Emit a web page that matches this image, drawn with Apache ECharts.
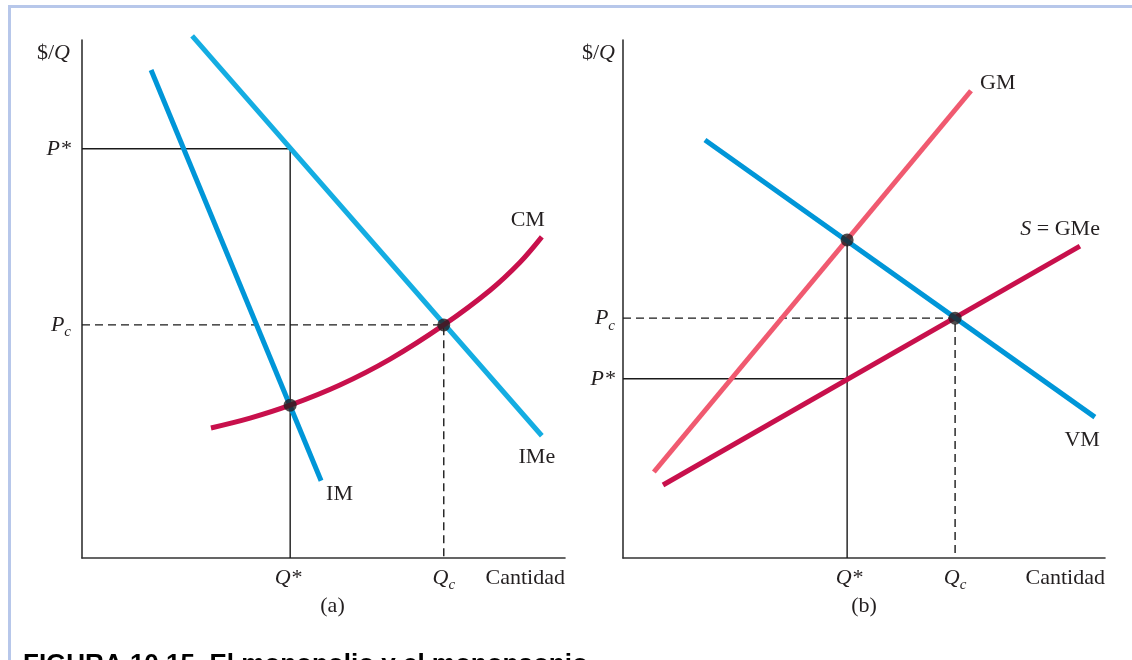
<!DOCTYPE html>
<html><head><meta charset="utf-8">
<script src="https://cdn.jsdelivr.net/npm/echarts@6/dist/echarts.min.js"></script>
<style>html,body{margin:0;padding:0;background:#fff}#c{width:1132px;height:660px}</style>
</head><body><div id="c"></div>
<script>
// ---------- Panel (a): monopoly (values in chart units, axes 0..10) ----------
const aIM  = [[1.43, 9.42], [4.95, 1.49]];
const aIMe = [[2.28, 10.08], [9.52, 2.36]];
const aCM  = [[2.67,2.51],[3.48,2.70],[4.31,2.95],[5.34,3.34],[6.38,3.84],[7.49,4.50],[8.45,5.17],[9.07,5.71],[9.52,6.20]];
const aQstar = 4.31, aQc = 7.49, aPstar = 7.90, aPc = 4.50, aCMatQstar = 2.95;
// ---------- Panel (b): monopsony ----------
const bVM = [[1.70,8.07],[9.79,2.72]];
const bGM = [[0.64,1.66],[7.22,9.02]];
const bS  = [[0.83,1.41],[9.48,6.02]];
const bQstar = 4.65, bQc = 6.89, bPstar = 3.46, bPc = 4.63, bVMatQstar = 6.14;
const axisMax = 10;

const SERIF = '"Liberation Serif", "DejaVu Serif", serif';
const INK = '#231f20';
const C_IM = '#0096d8', C_IMe = '#14ade2', C_CM = '#c8104c', C_GM = '#f05a70', C_VM = '#0096d8';

const chart = echarts.init(document.getElementById('c'), null, {renderer: 'canvas'});

function axes(g) {
  return {type: 'value', min: 0, max: axisMax, gridIndex: g,
    axisLine: {show: true, onZero: false, lineStyle: {color: '#333', width: 1.6}},
    axisTick: {show: false}, axisLabel: {show: false}, splitLine: {show: false}};
}
function line(g, data, color, extra) {
  return Object.assign({type: 'line', xAxisIndex: g, yAxisIndex: g, data: data, showSymbol: false,
    symbol: 'none', clip: false, silent: true, animation: false,
    lineStyle: {color: color, width: 5, cap: 'butt'}, z: 3}, extra || {});
}
function guide(g, data, dashed) {
  return {type: 'line', xAxisIndex: g, yAxisIndex: g, data: data, symbol: 'none', silent: true,
    animation: false, z: 2,
    lineStyle: {color: '#1a1a1a', width: 1.4, type: dashed ? [8, 5] : 'solid'}};
}

chart.setOption({
  animation: false,
  grid: [
    {left: 82, top: 40, width: 483, height: 518},
    {left: 623, top: 40, width: 482, height: 518}
  ],
  xAxis: [axes(0), axes(1)],
  yAxis: [axes(0), axes(1)],
  series: [
    guide(0, [[0, aPstar], [aQstar, aPstar], [aQstar, 0]], false),
    guide(0, [[0, aPc], [aQc, aPc], [aQc, 0]], true),
    line(0, aIM, C_IM),
    line(0, aIMe, C_IMe),
    line(0, aCM, C_CM, {smooth: 0.35}),
    {type: 'scatter', xAxisIndex: 0, yAxisIndex: 0, data: [[aQstar, aCMatQstar], [aQc, aPc]],
      symbolSize: 13, itemStyle: {color: INK}, z: 5, silent: true},
    guide(1, [[0, bPstar], [bQstar, bPstar]], false),
    guide(1, [[bQstar, bVMatQstar], [bQstar, 0]], false),
    guide(1, [[0, bPc], [bQc, bPc], [bQc, 0]], true),
    line(1, bGM, C_GM),
    line(1, bS, C_CM),
    line(1, bVM, C_VM),
    {type: 'scatter', xAxisIndex: 1, yAxisIndex: 1, data: [[bQstar, bVMatQstar], [bQc, bPc]],
      symbolSize: 13, itemStyle: {color: INK}, z: 5, silent: true}
  ]
});

function px(g, x, y) { return chart.convertToPixel({gridIndex: g}, [x, y]); }
const rich = {
  r: {fontFamily: SERIF, fontSize: 22, color: INK, lineHeight: 24},
  i: {fontFamily: SERIF, fontSize: 22, fontStyle: 'italic', color: INK, lineHeight: 24},
  s: {fontFamily: SERIF, fontSize: 15, fontStyle: 'italic', color: INK, padding: [15, 0, 0, 0]}
};
function txt(anchor, dx, dy, text, align, vAlign) {
  return {type: 'text', x: anchor[0] + dx, y: anchor[1] + dy, z: 10, silent: true,
    style: {text: text, rich: rich, align: align || 'center', verticalAlign: vAlign || 'middle',
      fontFamily: SERIF, fontSize: 22, fill: INK}};
}

const g = [];
g.push({type: 'line', shape: {x1: 8, y1: 6.5, x2: 1132, y2: 6.5}, style: {stroke: '#b7c7ea', lineWidth: 3}, silent: true});
g.push({type: 'line', shape: {x1: 9.5, y1: 5, x2: 9.5, y2: 660}, style: {stroke: '#b7c7ea', lineWidth: 3}, silent: true});

g.push(txt(px(0, 0, axisMax), -12, 13, '{r|$/}{i|Q}', 'right'));
g.push(txt(px(0, 0, aPstar), -11, 0, '{i|P*}', 'right'));
g.push(txt(px(0, 0, aPc), -11, 0, '{i|P}{s|c}', 'right'));
g.push(txt(px(0, aQstar, 0), -2, 20, '{i|Q*}', 'center'));
g.push(txt(px(0, aQc, 0), 0, 20, '{i|Q}{s|c}', 'center'));
g.push(txt(px(0, axisMax, 0), 0, 20, '{r|Cantidad}', 'right'));
g.push(txt(px(0, axisMax / 2, 0), 9, 48, '{r|(a)}', 'center'));
g.push(txt(px(0, aIM[1][0], aIM[1][1]), 5, 13, '{r|IM}', 'left'));
g.push(txt(px(0, aIMe[1][0], aIMe[1][1]), -5, 21, '{r|IMe}', 'center'));
g.push(txt(px(0, aCM[aCM.length - 1][0], aCM[aCM.length - 1][1]), -14, -17, '{r|CM}', 'center'));

g.push(txt(px(1, 0, axisMax), -8, 13, '{r|$/}{i|Q}', 'right'));
g.push(txt(px(1, 0, bPc), -8, 0, '{i|P}{s|c}', 'right'));
g.push(txt(px(1, 0, bPstar), -8, 0, '{i|P*}', 'right'));
g.push(txt(px(1, bQstar, 0), 2, 20, '{i|Q*}', 'center'));
g.push(txt(px(1, bQc, 0), 0, 20, '{i|Q}{s|c}', 'center'));
g.push(txt(px(1, axisMax, 0), 0, 20, '{r|Cantidad}', 'right'));
g.push(txt(px(1, axisMax / 2, 0), 0, 48, '{r|(b)}', 'center'));
g.push(txt(px(1, bGM[1][0], bGM[1][1]), 9, -8, '{r|GM}', 'left'));
g.push(txt(px(1, bS[1][0], bS[1][1]), 20, -17, '{i|S}{r| = GMe}', 'right'));
g.push(txt(px(1, bVM[1][0], bVM[1][1]), 5, 23, '{r|VM}', 'right'));

g.push({type: 'text', x: 23, y: 652, silent: true,
  style: {text: '{p|FIGURA 10.15}{b|  El monopolio y el monopsonio}', verticalAlign: 'top', align: 'left',
    rich: {
      p: {fontFamily: '"Liberation Sans", Arial, sans-serif', fontWeight: 'bold', fontSize: 26, color: '#a363a9'},
      b: {fontFamily: '"Liberation Sans", Arial, sans-serif', fontWeight: 'bold', fontSize: 26, color: '#1a1a1a'}
    }}});

chart.setOption({graphic: g});
</script>
</body></html>
